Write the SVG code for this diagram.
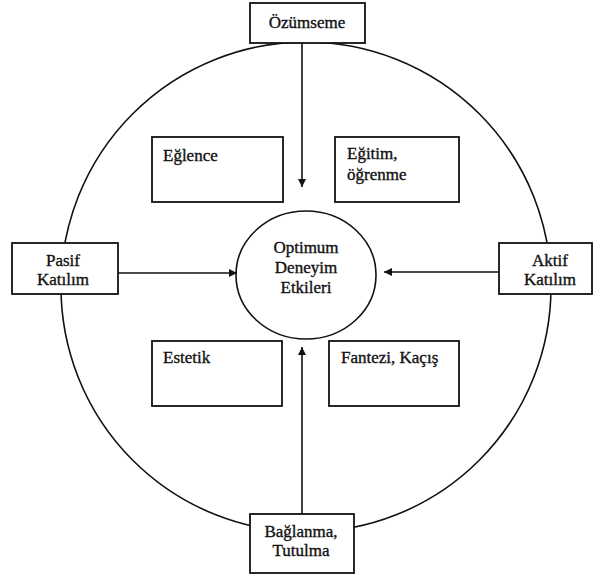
<svg xmlns="http://www.w3.org/2000/svg" width="596" height="577" viewBox="0 0 596 577">
<style>
.box{fill:#fff;stroke:#111;stroke-width:1.8}
.ring{fill:none;stroke:#111;stroke-width:1.6}
.t{font-family:"Liberation Serif","DejaVu Serif",serif;font-size:17px;fill:#111;stroke:#111;stroke-width:0.35}
.c{text-anchor:middle}
.ln{stroke:#111;stroke-width:1.6;fill:none}
</style>
<defs>
<marker id="ah" viewBox="0 0 10 10" refX="10" refY="5" markerWidth="9" markerHeight="8" markerUnits="userSpaceOnUse" orient="auto">
<path d="M0,0 L10,5 L0,10 z" fill="#111"/>
</marker>
</defs>
<rect width="596" height="577" fill="#fff"/>
<g id="outer"><circle class="ring" cx="306" cy="287" r="245"/></g>
<g id="connectors">
<line class="ln" x1="302" y1="43" x2="302" y2="187" marker-end="url(#ah)"/>
<line class="ln" x1="302" y1="514" x2="302" y2="347" marker-end="url(#ah)"/>
<line class="ln" x1="118" y1="273" x2="237" y2="273" marker-end="url(#ah)"/>
<line class="ln" x1="499" y1="272" x2="384" y2="272" marker-end="url(#ah)"/>
</g>
<g id="ozumseme"><rect class="box" x="250" y="3" width="115" height="40"/><text class="t c" x="307" y="28">Özümseme</text></g>
<g id="pasif"><rect class="box" x="12" y="243" width="106" height="51"/><text class="t c" x="63" y="266">Pasif</text><text class="t c" x="63" y="285">Katılım</text></g>
<g id="aktif"><rect class="box" x="499" y="243" width="93" height="51"/><text class="t c" x="550" y="266">Aktif</text><text class="t c" x="550" y="285">Katılım</text></g>
<g id="baglanma"><rect class="box" x="250" y="514" width="104" height="59"/><text class="t c" x="301" y="537">Bağlanma,</text><text class="t c" x="301" y="556">Tutulma</text></g>
<g id="merkez"><ellipse class="ring" cx="306" cy="275" rx="70" ry="64"/><text class="t c" x="306" y="253">Optimum</text><text class="t c" x="306" y="273">Deneyim</text><text class="t c" x="306" y="293">Etkileri</text></g>
<g id="eglence"><rect class="box" x="152" y="137" width="131" height="65"/><text class="t" x="163" y="161">Eğlence</text></g>
<g id="egitim"><rect class="box" x="335" y="137" width="124" height="65"/><text class="t" x="347" y="159">Eğitim,</text><text class="t" x="347" y="180">öğrenme</text></g>
<g id="estetik"><rect class="box" x="152" y="341" width="130" height="65"/><text class="t" x="163" y="363">Estetik</text></g>
<g id="fantezi"><rect class="box" x="329" y="341" width="130" height="65"/><text class="t" x="341" y="363">Fantezi, Kaçış</text></g>
</svg>
